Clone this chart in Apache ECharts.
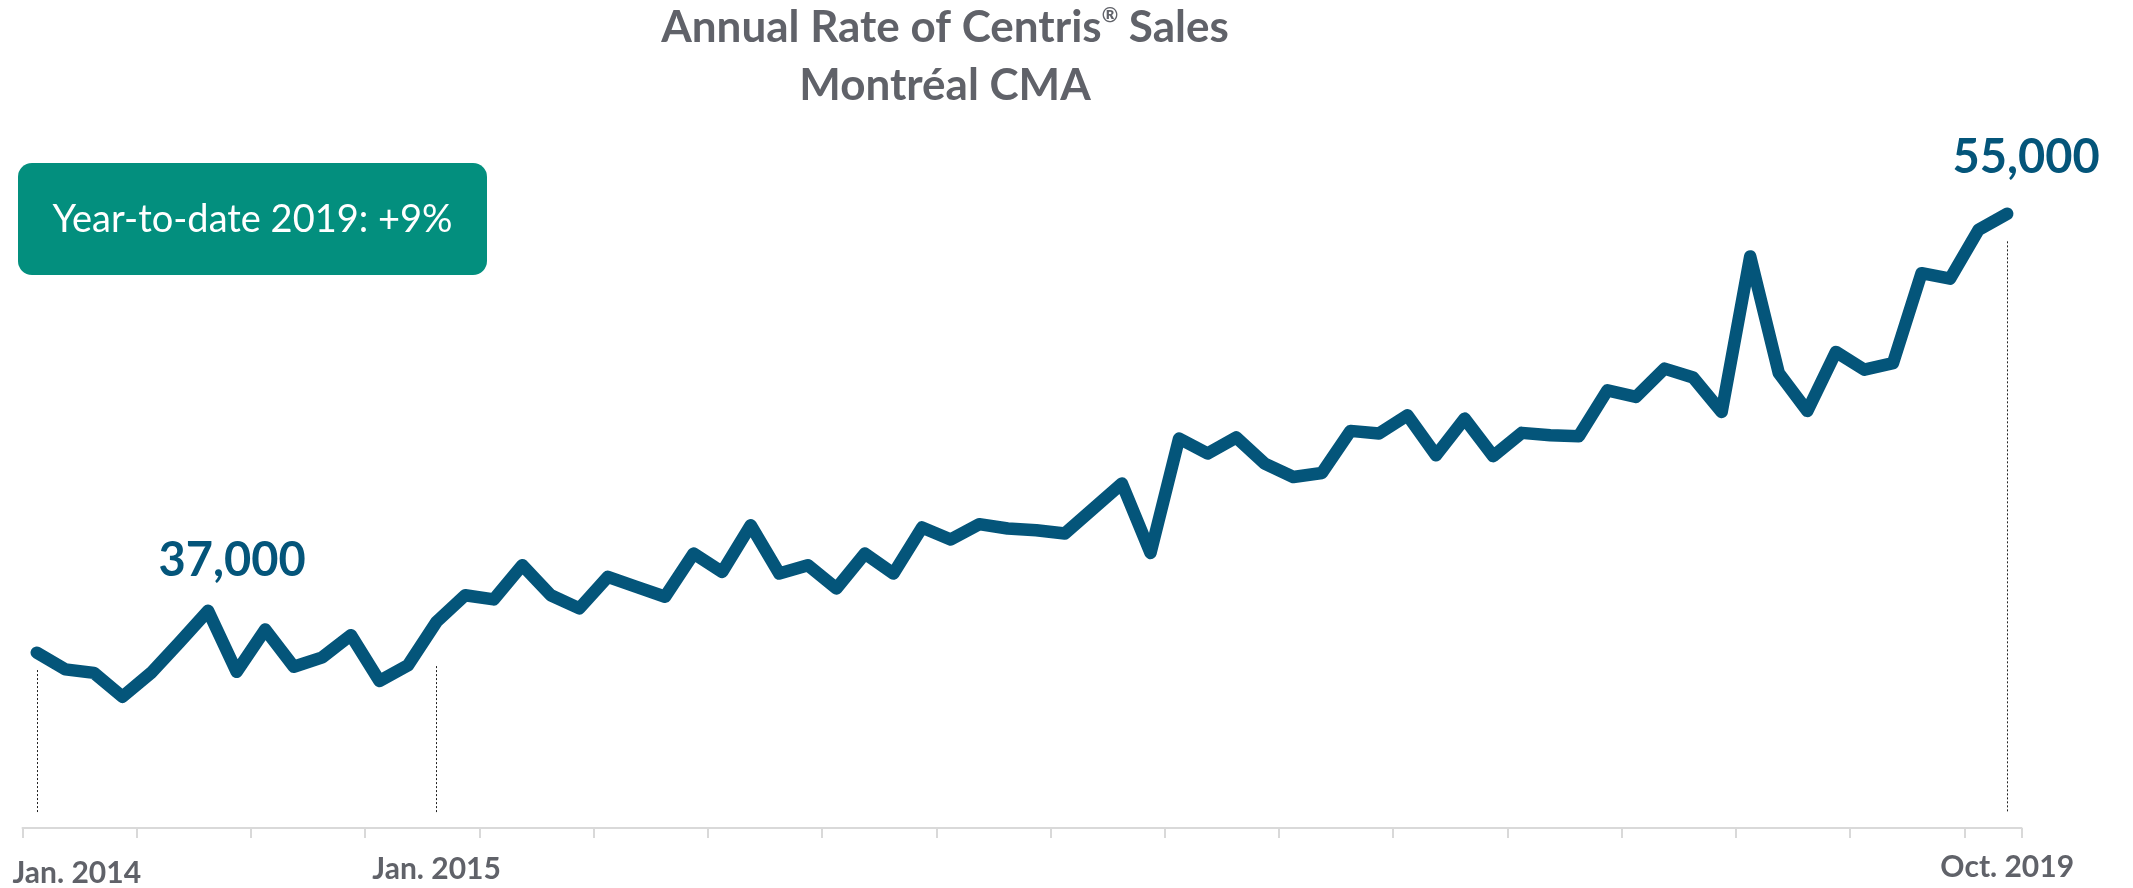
<!DOCTYPE html>
<html>
<head>
<meta charset="utf-8">
<script src="https://cdn.jsdelivr.net/npm/echarts@6/dist/echarts.min.js"></script>
<style>
html,body{margin:0;padding:0;background:#ffffff;}
#chart{width:2133px;height:888px;}
</style>
</head>
<body>
<div id="chart"></div>
<script>
// ---- data ----
const monthNames = ['Jan','Feb','Mar','Apr','May','Jun','Jul','Aug','Sep','Oct','Nov','Dec'];
const categories = [];
for (let y = 2014; y <= 2019; y++) {
  for (let m = 0; m < 12; m++) {
    if (y === 2019 && m > 9) break;
    categories.push(monthNames[m] + ' ' + y);
  }
}
// annual rate of Centris sales
const salesRate = [
  34990,34230,34070,32980,34070,35470,36900,34120,36050,34350,
  34780,35790,33700,34420,36400,37610,37420,38980,37610,37010,
  38450,37990,37540,39510,38670,40800,38600,38980,37920,39510,
  38600,40700,40150,40850,40650,40570,40420,41560,42700,39540,
  44750,44070,44800,43610,43000,43180,45100,44980,45810,43990,
  45660,43950,45010,44900,44860,46950,46650,47940,47530,45960,
  53050,47740,46010,48700,47890,48190,52290,52040,54270,55000
];
// tick labels shown on the axis (by category index)
const tickLabelIndex = [0, 14, 69];
const tickLabelText = ['Jan. 2014', 'Jan. 2015', 'Oct. 2019'];
// value callouts
const calloutIndex = [6, 69];
const calloutText = ['37,000', '55,000'];
// dotted guide lines: category index, top value, bottom value
const guideIndex = [0, 14, 69];
const guideTop = [34200, 34380, 53740];
const guideBottom = [27680, 27680, 27680];
const titleLines = ['Annual Rate of Centris{sup|®} Sales', 'Montréal CMA'];
const boxText = 'Year-to-date 2019: +9%';

// ---- chart ----
const LINE = '#04557a';
const GREY = '#606269';
const chart = echarts.init(document.getElementById('chart'), null, {renderer: 'canvas'});

const calloutData = calloutIndex.map((c, k) => ({
  coord: [c, salesRate[c]],
  label: {
    show: true,
    formatter: calloutText[k],
    position: 'top',
    distance: k === 0 ? 26 : 32,
    offset: k === 0 ? [24, 0] : [19, 0],
    fontFamily: 'Lato',
    fontWeight: 'bold',
    fontSize: 47,
    color: LINE
  }
}));

const guideData = guideIndex.map((c, i) => [
  {coord: [c, guideTop[i]]},
  {coord: [c, guideBottom[i]]}
]);

const axisFont = {fontFamily: 'Lato', fontWeight: 'bold', fontSize: 30, lineHeight: 30, color: GREY};

chart.setOption({
  animation: false,
  backgroundColor: '#ffffff',
  grid: {left: 22.5, right: 111.5, top: 104, bottom: 60, containLabel: false, outerBoundsMode: 'none'},
  xAxis: {
    type: 'category',
    data: categories,
    boundaryGap: true,
    axisLine: {show: true, lineStyle: {color: '#d9d9d9', width: 2}},
    axisTick: {show: true, interval: 3, length: 10, lineStyle: {color: '#d9d9d9', width: 2}},
    splitLine: {show: false},
    axisLabel: Object.assign({
      show: true,
      interval: (idx) => tickLabelIndex.indexOf(idx) >= 0,
      margin: 26,
      hideOverlap: false,
      formatter: (val, idx) => {
        const k = tickLabelIndex.indexOf(idx);
        if (k < 0) return '';
        if (k === 0) return '{first|' + tickLabelText[k] + '}';
        if (k === 2) return '{last|' + tickLabelText[k] + '}';
        return tickLabelText[k];
      },
      rich: {
        first: Object.assign({padding: [8, 0, 0, 80]}, axisFont),
        last: Object.assign({padding: [-3, 0, 0, 0]}, axisFont)
      }
    }, axisFont)
  },
  yAxis: {
    type: 'value',
    min: 27000,
    max: 60000,
    show: false,
    splitLine: {show: false}
  },
  series: [{
    type: 'line',
    data: salesRate,
    showSymbol: false,
    symbol: 'none',
    lineStyle: {color: LINE, width: 12.5, cap: 'round', join: 'round'},
    itemStyle: {color: LINE},
    markPoint: {
      silent: true,
      symbol: 'circle',
      symbolSize: 1,
      itemStyle: {color: 'rgba(0,0,0,0)'},
      data: calloutData
    },
    markLine: {
      silent: true,
      symbol: ['none', 'none'],
      label: {show: false},
      lineStyle: {color: '#222222', type: [2, 2], width: 1},
      data: guideData
    }
  }],
  graphic: [
    {
      type: 'text',
      x: 945, y: 28,
      style: {
        text: titleLines[0],
        font: 'bold 44px Lato',
        fill: GREY,
        align: 'center',
        verticalAlign: 'middle',
        rich: {
          sup: {fontFamily: 'Lato', fontWeight: 'bold', fontSize: 20, fill: GREY, verticalAlign: 'top', padding: [0, 0, 14, 0]}
        }
      }
    },
    {
      type: 'text',
      x: 945, y: 86,
      style: {
        text: titleLines[1],
        font: 'bold 44px Lato',
        fill: GREY,
        align: 'center',
        verticalAlign: 'middle'
      }
    },
    {
      type: 'rect',
      shape: {x: 18, y: 163, width: 469, height: 112, r: 14},
      style: {fill: '#038f7e'}
    },
    {
      type: 'text',
      x: 252.5, y: 220,
      style: {
        text: boxText,
        font: '38px Lato',
        fill: '#ffffff',
        align: 'center',
        verticalAlign: 'middle'
      }
    }
  ]
});
</script>
</body>
</html>
